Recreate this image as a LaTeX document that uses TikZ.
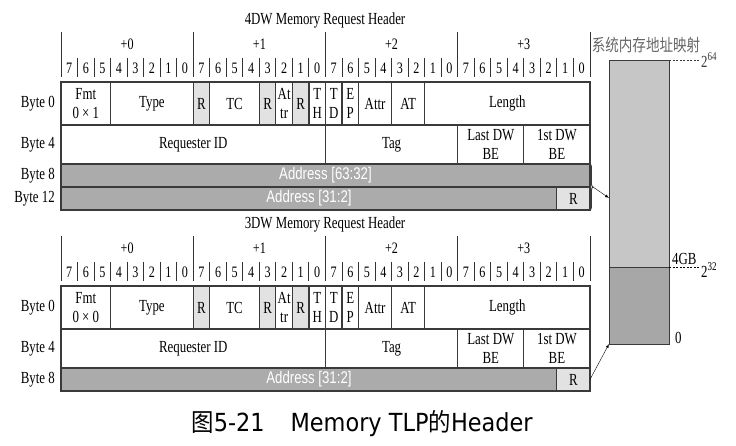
\documentclass[tikz,border=0pt]{standalone}
\usepackage{fontspec}
\setmainfont{Liberation Serif}[FakeStretch=0.76]
\newfontfamily\adrfont{Liberation Sans}[FakeStretch=0.78]
\newfontfamily\capfont{DejaVu Sans}[FakeStretch=0.9]
\newfontfamily\cjk{Noto Sans CJK SC}[FakeStretch=0.9]
\newfontfamily\cjkm{Noto Sans CJK SC}[FakeStretch=0.8]
\usetikzlibrary{calc,positioning,arrows,decorations.pathreplacing}
\definecolor{lc}{HTML}{3A3A3A}
\definecolor{rgray}{HTML}{E2E2E2}
\definecolor{agray}{HTML}{ABABAB}
\definecolor{hgray}{HTML}{C6C6C6}
\definecolor{lgray}{HTML}{A7A7A7}
\def\bwn{16.53}
\newlength\bw \setlength\bw{\bwn bp}
\tikzset{
  fld/.style={draw=lc,line width=1.1bp,inner sep=0pt,outer sep=0pt,align=center,
    font=\fontsize{17}{19}\selectfont,anchor=north west},
  wd/.style={minimum width={#1*\bw}},
  ht/.style={minimum height=#1bp},
  rsv/.style={fill=rgray},
  adr/.style={fill=agray,text=white,font=\adrfont\fontsize{17}{18}\selectfont},
  lbl/.style={font=\fontsize{17}{18}\selectfont,inner sep=0pt},
  num/.style={font=\fontsize{16}{18}\selectfont,inner sep=0pt},
  hl/.style={draw=black!80,line width=1bp},
}
\begin{document}
\begin{tikzpicture}[x=1bp,y=-1bp]
\useasboundingbox (0,0) rectangle (736,446);
\foreach \hw/\y/\fv in {4/32/1,3/236/0}{
  \node[lbl] (t\hw) at (325,\y-12) {\hw DW Memory Request Header};
  \foreach \k in {0,...,3}{
    \draw[hl] ({61+\k*8*\bwn},\y) -- ({61+\k*8*\bwn},\y+45);
    \node[num] (p\hw\k) at ({61+(\k*8+4)*\bwn},\y+12) {+\k};
  }
  \draw[hl] (590,\y) -- (590,\y+45);
  \foreach \i in {0,...,31}{
    \pgfmathtruncatemacro\bit{7-mod(\i,8)}
    \node[num] (n\hw-\i) at ({61+(\i+0.5)*\bwn},\y+36) {\bit};
  }
  \foreach \i in {1,...,31}
    \draw[hl] ({61+\i*\bwn},\y+26) -- ({61+\i*\bwn},\y+45);
  \node[fld,wd=3,ht=43] (fmt\hw) at (61,\y+50) {Fmt\\0 × \fv};
  \node[fld,wd=5,ht=43,right=0pt of fmt\hw] (type\hw) {Type};
  \node[fld,rsv,wd=1,ht=43,right=0pt of type\hw] (ra\hw) {R};
  \node[fld,wd=3,ht=43,right=0pt of ra\hw] (tc\hw) {TC};
  \node[fld,rsv,wd=1,ht=43,right=0pt of tc\hw] (rb\hw) {R};
  \node[fld,wd=1,ht=43,right=0pt of rb\hw] (at\hw) {At\\tr};
  \node[fld,rsv,wd=1,ht=43,right=0pt of at\hw] (rc\hw) {R};
  \node[fld,wd=1,ht=43,right=0pt of rc\hw] (th\hw) {T\\H};
  \node[fld,wd=1,ht=43,right=0pt of th\hw] (td\hw) {T\\D};
  \node[fld,wd=1,ht=43,right=0pt of td\hw] (ep\hw) {E\\P};
  \node[fld,wd=2,ht=43,right=0pt of ep\hw] (attr\hw) {Attr};
  \node[fld,wd=2,ht=43,right=0pt of attr\hw] (atype\hw) {AT};
  \node[fld,wd=10,ht=43,right=0pt of atype\hw] (len\hw) {Length};
  \node[fld,wd=16,ht=39] (rid\hw) at (fmt\hw.south west) {Requester ID};
  \node[fld,wd=8,ht=39,right=0pt of rid\hw] (tag\hw) {Tag};
  \node[fld,wd=4,ht=39,right=0pt of tag\hw] (ldw\hw) {Last DW\\BE};
  \node[fld,wd=4,ht=39,right=0pt of ldw\hw] (fdw\hw) {1st DW\\BE};
  \node[lbl,left=6bp of fmt\hw] (b0\hw) {Byte 0};
  \node[lbl,left=6bp of rid\hw] (b4\hw) {Byte 4};
}
\node[fld,adr,wd=32,ht=23] (ahi4) at (rid4.south west) {Address [63:32]};
\node[fld,adr,wd=30,ht=23] (alo4) at (ahi4.south west) {Address [31:2]};
\node[fld,rsv,wd=2,ht=23,right=0pt of alo4] (rd4) {R};
\node[lbl,left=6bp of ahi4] (b84) {Byte 8};
\node[lbl,left=6bp of alo4] (b124) {Byte 12};
\node[fld,adr,wd=30,ht=23] (alo3) at (rid3.south west) {Address [31:2]};
\node[fld,rsv,wd=2,ht=23,right=0pt of alo3] (rd3) {R};
\node[lbl,left=6bp of alo3] (b83) {Byte 8};

\node[font=\cjkm\fontsize{17}{18}\selectfont,text=black!60] (mtit) at (646,45) {系统内存地址映射};
\node[draw=lc,fill=hgray,minimum width=60bp,minimum height=207bp,inner sep=0pt,outer sep=0pt,anchor=north west] (mhi) at (609,60) {};
\node[draw=lc,fill=lgray,minimum width=60bp,minimum height=77bp,inner sep=0pt,outer sep=0pt,below=0pt of mhi] (mlo) {};
\draw[lc,dash pattern=on 2bp off 1.5bp] (mhi.north east) -- ++(30,0) node[lbl,right=2bp] (e64) {2\textsuperscript{64}};
\draw[black,dash pattern=on 2bp off 1.5bp] (mhi.south east) -- ++(30,0) node[lbl,right=2bp,yshift=-3bp] (e32) {2\textsuperscript{32}};
\node[lbl,anchor=south west] (g4) at ([xshift=3bp,yshift=2bp]mhi.south east) {4GB};
\node[lbl,anchor=west] (z0) at ([xshift=6bp,yshift=6bp]mlo.south east) {0};

\draw[lc,line width=0.9bp,decorate,decoration={brace,amplitude=3bp}] (ahi4.north east) -- (rd4.south east);
\coordinate (bt) at ($(ahi4.north east)!0.5!(rd4.south east)+(3bp,0)$);
\coordinate (m1) at ([yshift=-138bp]mhi.north west);
\draw[-latex,black] (bt) -- (m1);
\draw[-latex,black] (rd3.east) -- (mlo.south west);

\node[font=\capfont\fontsize{25}{26}\selectfont] (cap) at (362,424) {{\cjk 图}5-21\hspace{26bp}Memory TLP{\cjk 的}Header};
\end{tikzpicture}
\end{document}
